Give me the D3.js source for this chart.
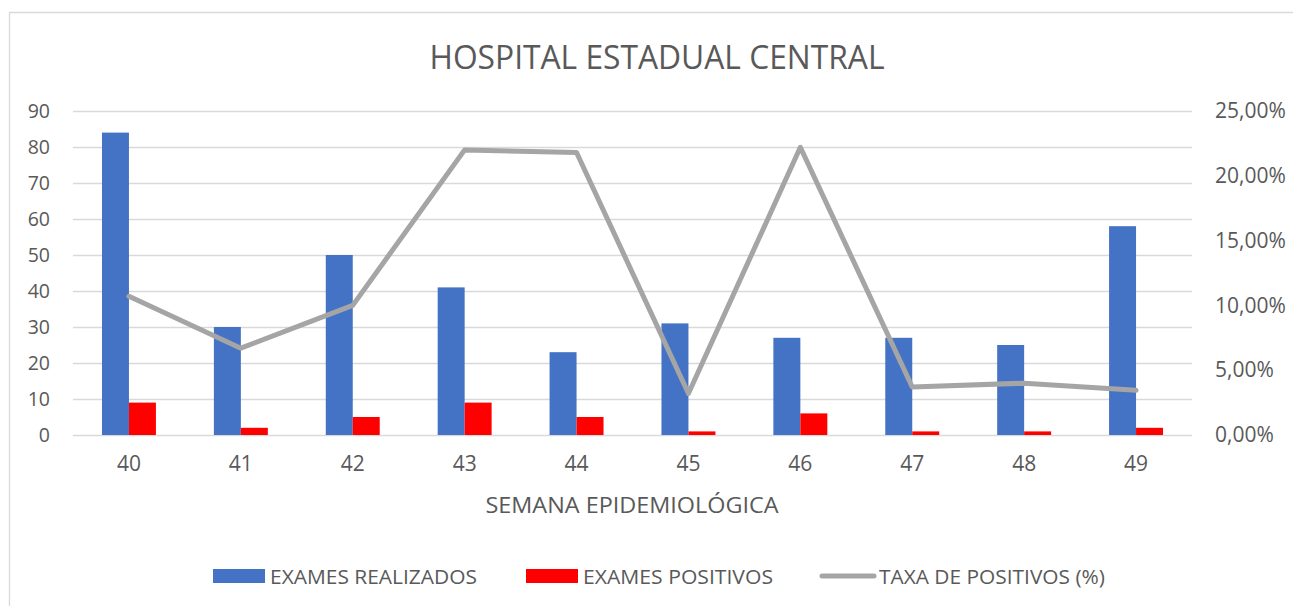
<!DOCTYPE html>
<html>
<head>
<meta charset="utf-8">
<script src="https://cdn.jsdelivr.net/npm/d3@7"></script>
<style>
body{margin:0;background:#fff;}
text{font-family:"Open Sans",sans-serif;fill:#595959;}
.grid line{stroke:#d9d9d9;stroke-width:1.3;}
.grid path{display:none;}
</style>
</head>
<body>
<div id="chart"></div>
<script>
const width = 1293;
const height = 606;
const margin = {top:111,right:101,bottom:171,left:73};

// data
const weeks = ["40","41","42","43","44","45","46","47","48","49"];
const realizados = [84,30,50,41,23,31,27,27,25,58];
const positivos = [9,2,5,9,5,1,6,1,1,2];
const taxa = [0.107,0.067,0.100,0.220,0.218,0.032,0.222,0.037,0.040,0.0345];
const leftTicks = [0,10,20,30,40,50,60,70,80,90];
const rightTicks = [0,0.05,0.10,0.15,0.20,0.25];

const svg = d3.select("#chart")
.append("svg")
.attr("width",width)
.attr("height",height);

// chart area frame
svg.append("path")
.attr("d",`M9.5,${height} V12.5 H${width}`)
.attr("fill","none")
.attr("stroke","#d9d9d9")
.attr("stroke-width",1.3);

const x = d3.scaleBand()
.domain(weeks)
.range([margin.left,width-margin.right])
.padding(0);

const xSub = d3.scaleBand()
.domain(["real","pos"])
.range([0,x.bandwidth()])
.paddingInner(0)
.paddingOuter(1.074);

const y = d3.scaleLinear()
.domain([0,90])
.range([height-margin.bottom,margin.top]);

const y2 = d3.scaleLinear()
.domain([0,0.25])
.range([height-margin.bottom,margin.top]);

// GRID
svg.append("g")
.attr("class","grid")
.attr("transform",`translate(${margin.left},0)`)
.call(
d3.axisLeft(y)
.tickValues(leftTicks)
.tickSize(-(width-margin.left-margin.right))
.tickFormat("")
);

// BARS
svg.append("g").selectAll("rect")
.data(realizados)
.enter()
.append("rect")
.attr("x",(d,i)=>x(weeks[i])+xSub("real"))
.attr("y",d=>y(d))
.attr("width",xSub.bandwidth())
.attr("height",d=>y(0)-y(d))
.attr("fill","#4472c4");

svg.append("g").selectAll("rect")
.data(positivos)
.enter()
.append("rect")
.attr("x",(d,i)=>x(weeks[i])+xSub("pos"))
.attr("y",d=>y(d))
.attr("width",xSub.bandwidth())
.attr("height",d=>y(0)-y(d))
.attr("fill","#ff0000");

// LINE
const line = d3.line()
.x((d,i)=>x(weeks[i])+x.bandwidth()/2)
.y(d=>y2(d));

svg.append("path")
.datum(taxa)
.attr("fill","none")
.attr("stroke","#a5a5a5")
.attr("stroke-width",5)
.attr("stroke-linejoin","round")
.attr("stroke-linecap","round")
.attr("d",line);

// LEFT AXIS
const gl = svg.append("g")
.attr("transform",`translate(${margin.left},0)`)
.call(d3.axisLeft(y).tickValues(leftTicks).tickSize(0).tickPadding(23));
gl.select(".domain").remove();
gl.selectAll("text").style("font-size","19.5px").attr("fill","#595959");

// RIGHT AXIS
const fmt = d=>d3.format(".2f")(d*100).replace(".",",")+"%";
const gr = svg.append("g")
.attr("transform",`translate(${width-margin.right},0)`)
.call(d3.axisRight(y2).tickValues(rightTicks).tickFormat(fmt).tickSize(0).tickPadding(23));
gr.select(".domain").remove();
gr.selectAll("text").style("font-size","21px").attr("fill","#595959");

// X AXIS
const gx = svg.append("g")
.attr("transform",`translate(0,${height-margin.bottom})`)
.call(d3.axisBottom(x).tickSize(0).tickPadding(21));
gx.select(".domain").remove();
gx.selectAll("text").style("font-size","21px").attr("fill","#595959");

// TITLE
svg.append("text")
.attr("x",657)
.attr("y",69)
.attr("text-anchor","middle")
.attr("textLength",455)
.attr("lengthAdjust","spacingAndGlyphs")
.style("font-size","33px")
.text("HOSPITAL ESTADUAL CENTRAL");

// X LABEL
svg.append("text")
.attr("x",632)
.attr("y",513)
.attr("text-anchor","middle")
.attr("textLength",293)
.attr("lengthAdjust","spacingAndGlyphs")
.style("font-size","21px")
.text("SEMANA EPIDEMIOLÓGICA");

// LEGEND
const legend = [
{name:"EXAMES REALIZADOS",color:"#4472c4",type:"rect",x:213,w:207},
{name:"EXAMES POSITIVOS",color:"#ff0000",type:"rect",x:526,w:190},
{name:"TAXA DE POSITIVOS (%)",color:"#a5a5a5",type:"line",x:820,w:226}
];
const lg = svg.append("g").selectAll("g")
.data(legend)
.enter()
.append("g")
.attr("transform",d=>`translate(${d.x},576)`);

lg.filter(d=>d.type==="rect").append("rect")
.attr("x",0).attr("y",-7)
.attr("width",52).attr("height",14)
.attr("fill",d=>d.color);

lg.filter(d=>d.type==="line").append("line")
.attr("x1",2).attr("x2",54)
.attr("stroke",d=>d.color)
.attr("stroke-width",5)
.attr("stroke-linecap","round");

lg.append("text")
.attr("x",d=>d.type==="line"?59:57)
.attr("y",7.5)
.attr("textLength",d=>d.w)
.attr("lengthAdjust","spacingAndGlyphs")
.style("font-size","20.5px")
.text(d=>d.name);
</script>
</body>
</html>
